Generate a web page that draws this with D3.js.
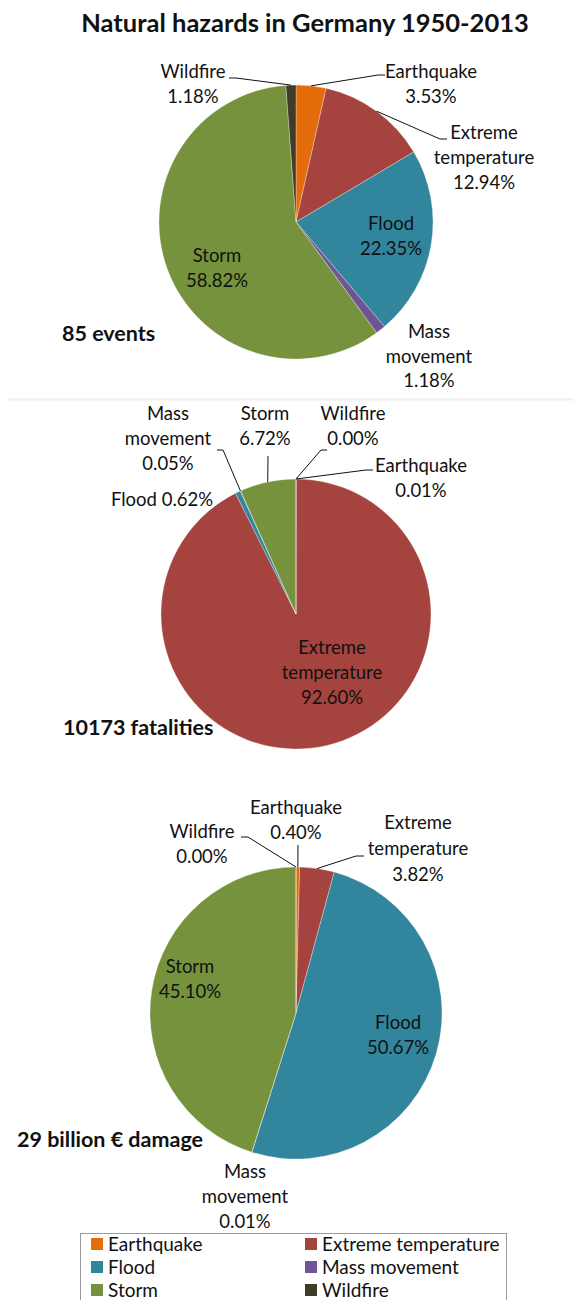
<!DOCTYPE html>
<html>
<head>
<meta charset="utf-8">
<script src="https://cdn.jsdelivr.net/npm/d3@7"></script>
<style>
  html, body { margin: 0; padding: 0; background: #fff; }
  svg { display: block; }
  text { font-family: Lato, "Open Sans", sans-serif; fill: #111; }
</style>
</head>
<body>
<svg id="chart" width="573" height="1300"></svg>
<script>
// Hazard categories, in the order the slices run clockwise from 12 o'clock
const categories = ["Earthquake", "Extreme temperature", "Flood", "Mass movement", "Storm", "Wildfire"];
const colors = ["#E46C0A", "#A5443F", "#31859C", "#6F5595", "#76923C", "#403C2A"];

// Share of each hazard (%) in the three measures
const eventsShare     = [3.53, 12.94, 22.35, 1.18, 58.82, 1.18];
const fatalitiesShare = [0.01, 92.60, 0.62, 0.05, 6.72, 0.00];
const damageShare     = [0.40, 3.82, 50.67, 0.01, 45.10, 0.00];

// Totals shown beside each pie
const totalLabels = ["85 events", "10173 fatalities", "29 billion \u20AC damage"];

const title = "Natural hazards in Germany 1950-2013";

// Placement of each pie and its labels
const pieLayout = [
  { cx: 296, cy: 222, r: 137, total: [62, 333],
    labels: [
      { x: 431, y: 72,  leader: [[385, 75], [378, 75]] },
      { x: 484, y: 133, leader: [[447, 139], [440, 139]] },
      { x: 391, y: 224 },
      { x: 429, y: 332, gap: 24.5 },
      { x: 217, y: 256 },
      { x: 193, y: 72,  leader: [[229, 78], [236, 78]] }
    ] },
  { cx: 296, cy: 614, r: 135, total: [63, 727],
    labels: [
      { x: 421, y: 466, leader: [[373, 470], [366, 470]] },
      { x: 332, y: 648 },
      { x: 162, y: 500, inline: true },
      { x: 168, y: 414, leader: [[217, 450], [223, 450]] },
      { x: 265, y: 414, leader: [[268, 456]] },
      { x: 353, y: 414, leader: [[327, 450], [321, 450]] }
    ] },
  { cx: 296, cy: 1013, r: 146, total: [17, 1139],
    labels: [
      { x: 296, y: 808, leader: [[298, 845]] },
      { x: 418, y: 823, gap: 26, leader: [[364, 856], [356, 856]] },
      { x: 398, y: 1023 },
      { x: 245, y: 1172 },
      { x: 190, y: 967 },
      { x: 202, y: 832, leader: [[241, 837], [248, 837]] }
    ] }
];
const measures = [eventsShare, fatalitiesShare, damageShare];

const svg = d3.select("#chart");

svg.append("text")
  .attr("x", 305).attr("y", 32)
  .attr("text-anchor", "middle")
  .style("font-size", "25.5px").style("font-weight", "bold")
  .text(title);

// thin divider under the first pie
svg.append("line")
  .attr("x1", 7).attr("x2", 573).attr("y1", 399.5).attr("y2", 399.5)
  .attr("stroke", "#efefef").attr("stroke-width", 2);

const pie = d3.pie().sort(null).value(d => d.value);

measures.forEach((values, i) => {
  const lay = pieLayout[i];
  const data = categories.map((c, k) => ({ name: c, value: values[k], color: colors[k] }));
  const arcs = pie(data);
  const arc = d3.arc().innerRadius(0).outerRadius(lay.r);
  const g = svg.append("g").attr("transform", `translate(${lay.cx},${lay.cy})`);

  g.selectAll("path").data(arcs).join("path")
    .attr("d", arc)
    .attr("fill", d => d.data.color)
    .attr("stroke", "#fff").attr("stroke-width", 0.5).attr("stroke-opacity", 0.6);

  arcs.forEach((a, k) => {
    const L = lay.labels[k];
    const pct = a.data.value.toFixed(2) + "%";
    const words = a.data.name.split(" ");
    const lines = L.inline ? [a.data.name + " " + pct] : [...words, pct];
    const gap = L.gap || 25;
    const t = svg.append("text")
      .attr("text-anchor", "middle")
      .style("font-size", "18.5px");
    lines.forEach((s, j) => {
      t.append("tspan").attr("x", L.x).attr("y", L.y + j * gap).attr("dy", "0.35em").text(s);
    });

    if (L.leader) {
      const mid = (a.startAngle + a.endAngle) / 2;
      const edge = [lay.cx + lay.r * Math.sin(mid), lay.cy - lay.r * Math.cos(mid)];
      const pts = [...L.leader, edge];
      svg.append("path")
        .attr("d", d3.line()(pts))
        .attr("fill", "none").attr("stroke", "#111").attr("stroke-width", 1);
    }
  });

  svg.append("text")
    .attr("x", lay.total[0]).attr("y", lay.total[1]).attr("dy", "0.35em")
    .style("font-size", "21.5px").style("font-weight", "bold")
    .text(totalLabels[i]);
});

// legend
const legend = svg.append("g");
legend.append("rect")
  .attr("x", 80.5).attr("y", 1233.5).attr("width", 426).attr("height", 90)
  .attr("fill", "none").attr("stroke", "#999").attr("stroke-width", 1);
const legX = [91, 305], legY = [1244, 1267, 1290];
categories.forEach((c, k) => {
  const x = legX[k % 2], y = legY[Math.floor(k / 2)];
  legend.append("rect").attr("x", x).attr("y", y - 6).attr("width", 12).attr("height", 12).attr("fill", colors[k]);
  legend.append("text").attr("x", x + 17).attr("y", y).attr("dy", "0.35em")
    .style("font-size", "19px").text(c);
});
</script>
</body>
</html>
